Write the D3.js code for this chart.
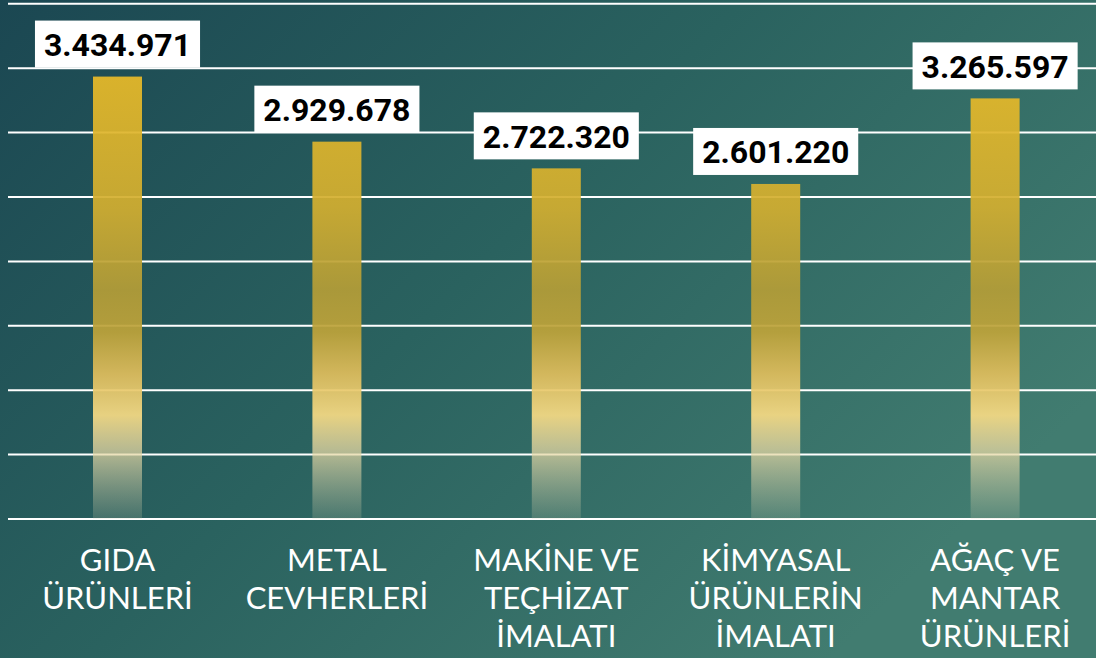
<!DOCTYPE html>
<html>
<head>
<meta charset="utf-8">
<script src="https://cdn.jsdelivr.net/npm/d3@7"></script>
<style>
  html, body { margin: 0; padding: 0; overflow: hidden; }
  svg { display: block; }
</style>
</head>
<body>
<svg id="chart"></svg>
<script>
const categories = [
    ["GIDA", "ÜRÜNLERİ"],
    ["METAL", "CEVHERLERİ"],
    ["MAKİNE VE", "TEÇHİZAT", "İMALATI"],
    ["KİMYASAL", "ÜRÜNLERİN", "İMALATI"],
    ["AĞAÇ VE", "MANTAR", "ÜRÜNLERİ"]
];
const values = [3434971, 2929678, 2722320, 2601220, 3265597];
const gridTicks = [0, 500000, 1000000, 1500000, 2000000, 2500000, 3000000, 3500000, 4000000];

const width = 1096;
const height = 658;

const svg = d3.select("#chart")
              .attr("width", width)
              .attr("height", height);

const defs = svg.append("defs");

// background
const bg = defs.append("linearGradient")
               .attr("id", "bg")
               .attr("x1", "0").attr("y1", "0")
               .attr("x2", "1").attr("y2", "0.6");
bg.append("stop").attr("offset", "0").attr("stop-color", "#1b4752");
bg.append("stop").attr("offset", "0.5").attr("stop-color", "#2a625f");
bg.append("stop").attr("offset", "1").attr("stop-color", "#417c70");

svg.append("rect")
   .attr("width", width)
   .attr("height", height)
   .attr("fill", "url(#bg)");

const xScale = d3.scaleBand()
                 .domain(d3.range(values.length))
                 .range([7.8, 1104.8]);

const yScale = d3.scaleLinear()
                 .domain([0, 4000000])
                 .range([519, 3.8]);

// bar gradient in page coordinates so every bar shares it
const bar = defs.append("linearGradient")
                .attr("id", "barGrad")
                .attr("gradientUnits", "userSpaceOnUse")
                .attr("x1", 0).attr("y1", 0)
                .attr("x2", 0).attr("y2", 519);
[
    [0.14, "#e8ba28", 1],
    [0.40, "#d2ae30", 1],
    [0.56, "#b49d37", 1],
    [0.64, "#bea33a", 1],
    [0.72, "#dfbd5c", 1],
    [0.80, "#f6da84", 1],
    [0.87, "#e6d8a4", 0.8],
    [1.00, "#c8c8a8", 0.2]
].forEach(s => {
    bar.append("stop")
       .attr("offset", s[0])
       .attr("stop-color", s[1])
       .attr("stop-opacity", s[2]);
});

// grid
svg.append("g")
   .selectAll("line")
   .data(gridTicks)
   .enter()
   .append("line")
   .attr("x1", 8)
   .attr("x2", width)
   .attr("y1", d => yScale(d))
   .attr("y2", d => yScale(d))
   .attr("stroke", "#ffffff")
   .attr("stroke-width", 2);

const barWidth = 49;

svg.append("g")
   .selectAll("rect")
   .data(values)
   .enter()
   .append("rect")
   .attr("x", (d, i) => xScale(i) + xScale.bandwidth() / 2 - barWidth / 2)
   .attr("y", d => yScale(d))
   .attr("width", barWidth)
   .attr("height", d => yScale(0) - yScale(d))
   .attr("fill", "url(#barGrad)")
   .attr("fill-opacity", 0.93);

const fmt = d3.formatLocale({ decimal: ",", thousands: ".", grouping: [3], currency: ["", ""] }).format(",d");

// value labels
const labels = svg.append("g")
                  .selectAll("g")
                  .data(values)
                  .enter()
                  .append("g")
                  .attr("transform", (d, i) => `translate(${xScale(i) + xScale.bandwidth() / 2},${yScale(d) - 32})`);

labels.append("text")
      .attr("text-anchor", "middle")
      .attr("dy", "0.36em")
      .attr("font-family", "Roboto, 'Liberation Sans', sans-serif")
      .attr("font-weight", "bold")
      .attr("font-size", 32)
      .attr("fill", "#000")
      .text(d => fmt(d));

labels.each(function() {
    const g = d3.select(this);
    const w = g.select("text").node().getComputedTextLength();
    g.insert("rect", "text")
     .attr("x", -w / 2 - 9)
     .attr("y", -24)
     .attr("width", w + 18)
     .attr("height", 47)
     .attr("fill", "#ffffff");
});

// category labels
const cats = svg.append("g")
                .selectAll("text")
                .data(categories)
                .enter()
                .append("text")
                .attr("x", (d, i) => xScale(i) + xScale.bandwidth() / 2)
                .attr("y", 571)
                .attr("text-anchor", "middle")
                .attr("font-family", "Lato, 'Open Sans', sans-serif")
                .attr("font-weight", 400)
                .attr("font-size", 31)
                .attr("fill", "#ffffff");

cats.selectAll("tspan")
    .data(d => d)
    .enter()
    .append("tspan")
    .attr("x", function() { return d3.select(this.parentNode).attr("x"); })
    .attr("dy", (d, i) => i === 0 ? 0 : 38)
    .text(d => d);
</script>
</body>
</html>
